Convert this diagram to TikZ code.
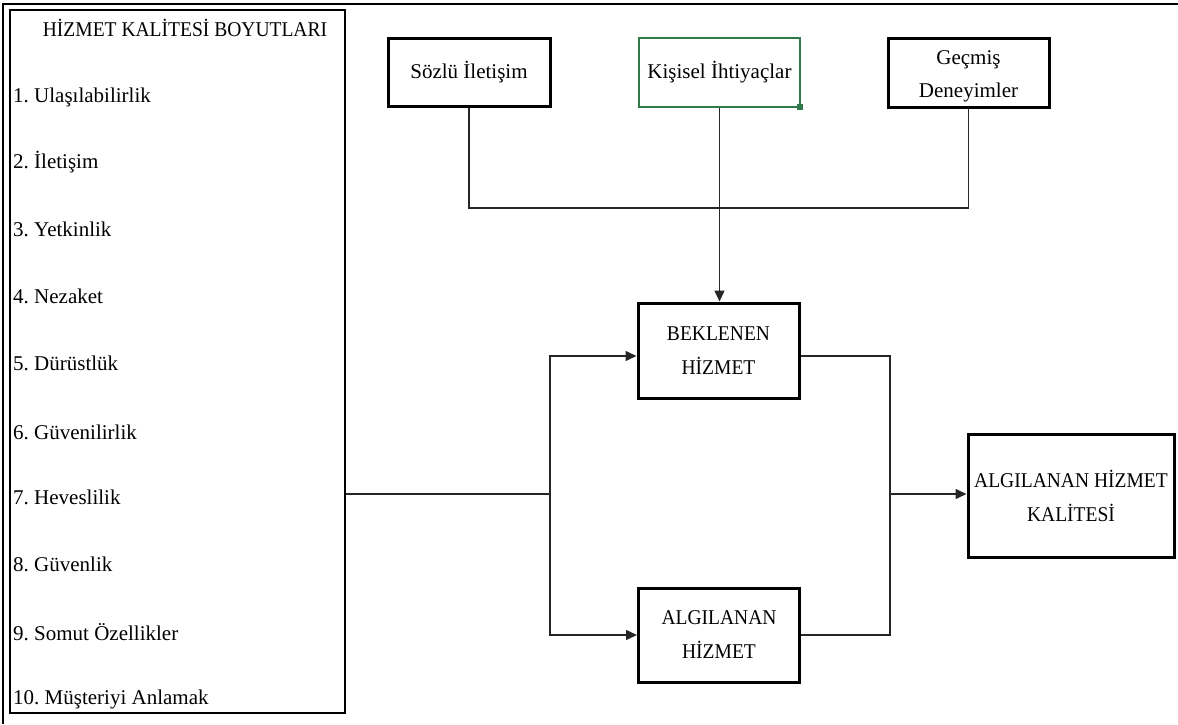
\documentclass[tikz,border=0pt]{standalone}
\usepackage{fontspec}
\setmainfont{Liberation Serif}
\newfontfamily\capsfont{Liberation Serif}[FakeStretch=0.93]
\usetikzlibrary{arrows.meta}
\definecolor{gcol}{RGB}{46,122,72}
\frenchspacing
\begin{document}
\begin{tikzpicture}[x=1pt,y=-1pt,
  every node/.style={font=\fontsize{21}{33}\selectfont},
  capstext/.style={font=\capsfont\fontsize{21}{34}\selectfont},
  boxnode/.style={draw=black,line width=3pt,inner sep=0pt,align=center},
  greenbox/.style={draw=gcol,line width=2.2pt,inner sep=0pt,align=center},
  itemtext/.style={anchor=west,inner sep=0pt},
  conn/.style={line width=1.5pt,draw=black!85},
  arr/.style={conn,-{Triangle[length=11pt,width=10pt]}}]
\useasboundingbox (0,0) rectangle (1178,724);
% outer frame
\draw[line width=2.4pt] (3,724) -- (3,4) -- (1178,4);
% left box
\node[boxnode,line width=2.6pt,minimum width=335pt,minimum height=703pt] (lb) at (177.5,361.5) {};
\node[inner sep=0pt,capstext] (title) at (185,28) {HİZMET KALİTESİ BOYUTLARI};
\node[itemtext] (i1) at (13,97) {1. Ulaşılabilirlik};
\node[itemtext] (i2) at (13,162) {2. İletişim};
\node[itemtext] (i3) at (13,229) {3. Yetkinlik};
\node[itemtext] (i4) at (13,296) {4. Nezaket};
\node[itemtext] (i5) at (13,363) {5. Dürüstlük};
\node[itemtext] (i6) at (13,432) {6. Güvenilirlik};
\node[itemtext] (i7) at (13,497) {7. Heveslilik};
\node[itemtext] (i8) at (13,564) {8. Güvenlik};
\node[itemtext] (i9) at (13,632) {9. Somut Özellikler};
\node[itemtext] (i10) at (13,699) {10. Müşteriyi Anlamak};
% top boxes
\node[boxnode,minimum width=162pt,minimum height=68pt] (soz) at (469,72) {Sözlü İletişim};
\node[greenbox,minimum width=161pt,minimum height=69pt] (kis) at (719.5,72.5) {Kişisel İhtiyaçlar};
\node[fill=gcol,inner sep=0pt,minimum size=6pt] (hd) at ([xshift=-1pt,yshift=1pt]kis.south east) {};
\node[boxnode,minimum width=161pt,minimum height=69pt,
  label={[align=center,inner sep=0pt,yshift=-4pt]center:Geçmiş\\Deneyimler}] (gec) at (968.5,72.5) {};
% middle boxes
\node[boxnode,capstext,minimum width=161pt,minimum height=95pt] (bek) at (718.5,350.5) {BEKLENEN\\HİZMET};
\node[boxnode,capstext,minimum width=161pt,minimum height=94pt] (alg) at (719,635) {ALGILANAN\\HİZMET};
\node[boxnode,capstext,minimum width=206pt,minimum height=123pt] (kal) at (1071,495.5) {ALGILANAN HİZMET\\KALİTESİ};
% connectors
\coordinate (j3) at (470,208);
\draw[conn] (soz.south) |- (gec.south |- j3) -- (gec.south);
\draw[arr] (kis.south) -- (kis.south |- bek.north);
\coordinate (j1) at (550,494);
\draw[conn] (lb.east |- j1) -- (j1);
\draw[arr] (j1) |- ([yshift=-5.5pt]bek.west);
\draw[arr] (j1) |- (alg.west);
\coordinate (j2) at (890,494);
\draw[conn] ([yshift=-5.5pt]bek.east) -| (alg.east -| j2) -- (alg.east);
\draw[arr] (j2) -- (kal.west |- j2);
\end{tikzpicture}
\end{document}
